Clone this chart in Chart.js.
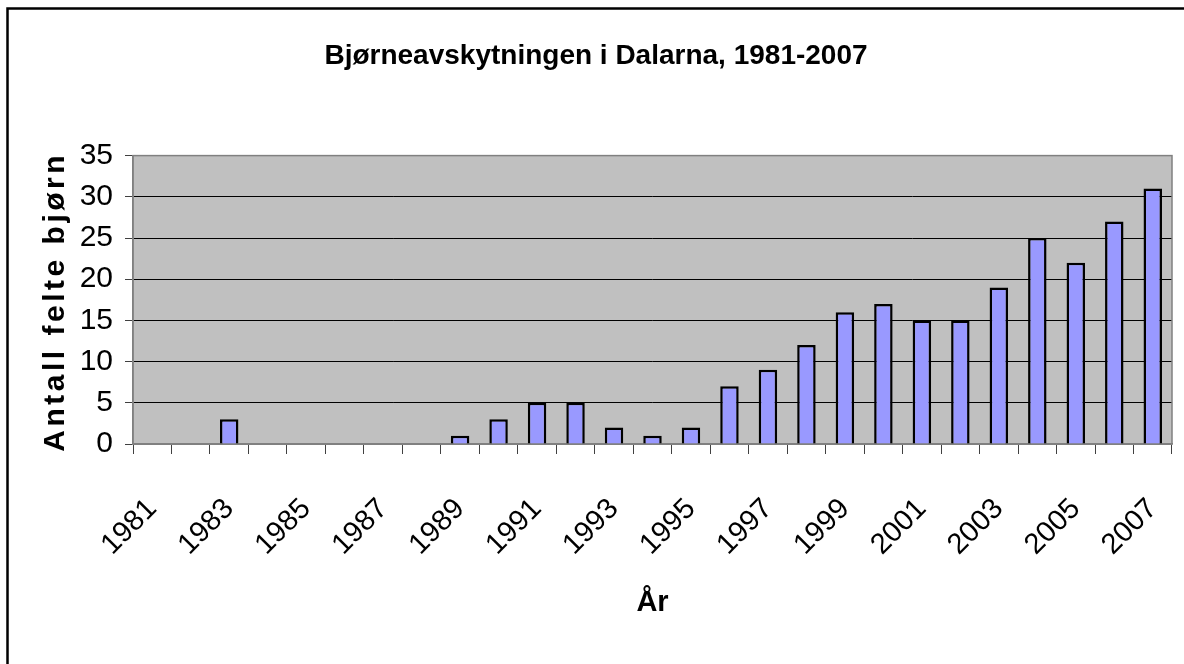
<!DOCTYPE html>
<html>
<head>
<meta charset="utf-8">
<script src="https://cdn.jsdelivr.net/npm/chart.js@4/dist/chart.umd.min.js"></script>
<style>
  body { margin: 0; background: #fff; }
  #wrap { width: 1184px; height: 664px; }
</style>
</head>
<body>
<div id="wrap"><canvas id="bearChart" width="1184" height="664"></canvas></div>
<script>
const years = ["1981","1982","1983","1984","1985","1986","1987","1988","1989","1990",
  "1991","1992","1993","1994","1995","1996","1997","1998","1999","2000",
  "2001","2002","2003","2004","2005","2006","2007"];
const bears = [0,0,3,0,0,0,0,0,1,3,5,5,2,1,2,7,9,12,16,17,15,15,19,25,22,27,31];
const yTicks = [0,5,10,15,20,25,30,35];

const FONT = "'Liberation Sans', Arial, sans-serif";

/* ================= PLUGINS ================= */
const frame = {
  id: "frame",
  beforeDraw(chart) {
    const { ctx, chartArea: a } = chart;
    ctx.save();
    ctx.fillStyle = "#fff";
    ctx.fillRect(0, 0, chart.width, chart.height);
    ctx.fillStyle = "#c0c0c0";
    ctx.fillRect(a.left, a.top, a.right - a.left, a.bottom - a.top);
    // outer border (only top and left visible)
    ctx.strokeStyle = "#000";
    ctx.lineWidth = 2.5;
    ctx.beginPath();
    ctx.moveTo(7.5, chart.height);
    ctx.lineTo(7.5, 8.5);
    ctx.lineTo(chart.width, 8.5);
    ctx.stroke();
    ctx.restore();
  },
  beforeDatasetsDraw(chart) {
    const { ctx, chartArea: a } = chart;
    ctx.save();
    ctx.strokeStyle = "#808080";
    ctx.lineWidth = 1.5;
    ctx.strokeRect(a.left, a.top, a.right - a.left, a.bottom - a.top);
    ctx.restore();
  },
  afterDraw(chart) {
    // y axis title with wide letter spacing
    const { ctx, chartArea: a } = chart;
    ctx.save();
    ctx.translate(56, (a.top + a.bottom) / 2 + 2);
    ctx.rotate(-Math.PI / 2);
    ctx.font = "bold 30px " + FONT;
    ctx.letterSpacing = "3.5px";
    ctx.fillStyle = "#000";
    ctx.textAlign = "center";
    ctx.textBaseline = "middle";
    ctx.fillText("Antall felte bjørn", 0, 0);
    ctx.restore();
  }
};

new Chart(document.getElementById("bearChart"), {
  type: "bar",
  data: {
    labels: years,
    datasets: [{
      data: bears,
      backgroundColor: "#9999ff",
      borderColor: "#000",
      borderWidth: 2.5,
      barPercentage: 0.48,
      categoryPercentage: 1
    }]
  },
  options: {
    responsive: false,
    animation: false,
    layout: { padding: { left: 20, right: 12, top: 0, bottom: 30 } },
    plugins: {
      legend: { display: false },
      tooltip: { enabled: false },
      title: {
        display: true,
        text: "Bjørneavskytningen i Dalarna, 1981-2007",
        color: "#000",
        font: { family: FONT, size: 28, weight: "bold", lineHeight: 1.2 },
        padding: { top: 39, bottom: 83 }
      }
    },
    scales: {
      x: {
        afterFit(scale) {
          scale.height = 190;
          scale.paddingLeft = 0;
          scale.paddingRight = 0;
        },
        grid: {
          offset: true,
          drawOnChartArea: false,
          drawTicks: true,
          tickLength: 10,
          color: "#404040"
        },
        border: { color: "#808080", width: 1.5 },
        ticks: {
          autoSkip: false,
          minRotation: 45,
          maxRotation: 45,
          color: "#000",
          padding: 38,
          font: { family: FONT, size: 29 },
          callback: (v, i) => (i % 2 === 0 ? years[i] : "")
        },
        title: {
          display: true,
          text: "År",
          color: "#000",
          font: { family: FONT, size: 29, weight: "bold" },
          padding: { top: 0, bottom: 14 }
        }
      },
      y: {
        min: 0,
        max: 35,
        afterFit(scale) { scale.width = 113; },
        afterBuildTicks(scale) { scale.ticks = yTicks.map(v => ({ value: v })); },
        grid: {
          color: c => (c.tick && (c.tick.value === 0 || c.tick.value === 35) ? "#808080" : "#000"),
          tickColor: "#404040",
          tickLength: 8,
          lineWidth: 1
        },
        border: { color: "#808080", width: 1.5 },
        ticks: {
          color: "#000",
          padding: 12,
          font: { family: FONT, size: 30 }
        }
      }
    }
  },
  plugins: [frame]
});
</script>
</body>
</html>
